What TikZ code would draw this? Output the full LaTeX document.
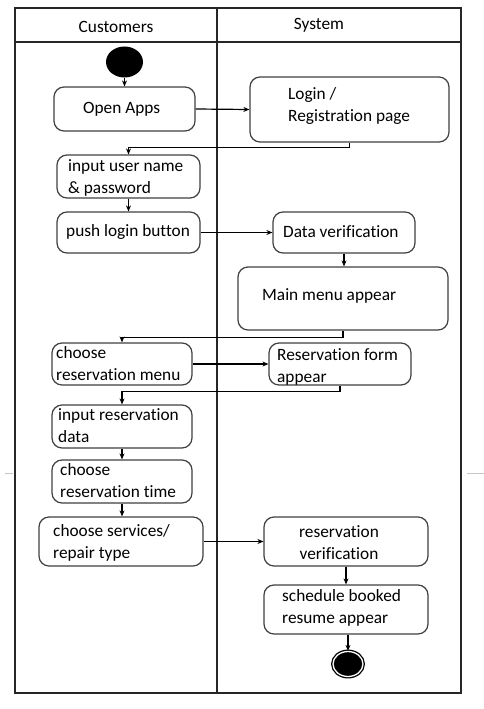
\documentclass[tikz,border=0pt]{standalone}
\usepackage{fontspec}
\setmainfont{Carlito}[Ligatures=NoCommon]
\usetikzlibrary{arrows.meta,shapes.geometric}
\begin{document}
\begin{tikzpicture}[x=1pt,y=-1pt,
  box/.style={draw=black!75, line width=1.2pt, fill=white, rounded corners=10pt, inner sep=0pt},
  txt/.style={inner sep=0pt, align=left, anchor=west, font=\fontsize{17.3}{22}\selectfont},
  ctxt/.style={inner sep=0pt, align=center, font=\fontsize{17.3}{22}\selectfont},
  arr/.style={line width=1.2pt, -{Stealth[length=6pt,width=5pt]}},
  frame/.style={line width=1.5pt, draw=black!85}]
\useasboundingbox (0,0) rectangle (484,709);
% page artifacts
\draw[gray!45, line width=1pt] (5,473) -- (13,473);
\draw[gray!45, line width=1pt] (467,473) -- (484,473);
% swimlane frame
\draw[frame] (15,8) rectangle (461,693);
\draw[frame] (15,42) -- (461,42);
\draw[frame] (217,8) -- (217,693);
\node[ctxt] (hcust) at (116,27) {Customers};
\node[ctxt] (hsys) at (319,25) {System};
% start
\node[ellipse, fill=black, minimum width=37pt, minimum height=31pt, inner sep=0pt] (start) at (124.5,62) {};
% boxes
\node[box, minimum width=141pt, minimum height=44pt] (open) at (124.5,109) {};
\node[txt] (topen) at (83,109) {Open Apps};
\node[box, minimum width=199pt, minimum height=65pt] (login) at (349.5,109.5) {};
\node[txt] (tlogin) at (288,106) {Login /\\Registration page};
\node[box, minimum width=143pt, minimum height=43pt] (input) at (128.5,176.5) {};
\node[txt] (tinput) at (68,178) {input user name\\\& password};
\node[box, minimum width=143pt, minimum height=41pt] (push) at (128.5,232.5) {};
\node[txt] (tpush) at (66,232) {push login button};
\node[box, minimum width=142pt, minimum height=41pt] (data) at (344,232.5) {};
\node[txt] (tdata) at (283,232) {Data verification};
\node[box, minimum width=210pt, minimum height=63pt] (main) at (343,298.5) {};
\node[txt] (tmain) at (262,296) {Main menu appear};
\node[box, minimum width=140pt, minimum height=42pt] (chres) at (122,364) {};
\node[txt] (tchres) at (56,364) {choose\\reservation menu};
\node[box, minimum width=142pt, minimum height=42pt] (form) at (340,364) {};
\node[txt] (tform) at (277,367) {Reservation form\\appear};
\node[box, minimum width=140pt, minimum height=43pt] (inres) at (122,426.5) {};
\node[txt] (tinres) at (58,426) {input reservation\\data};
\node[box, minimum width=140pt, minimum height=43pt] (time) at (122,481.5) {};
\node[txt] (ttime) at (60,481) {choose\\reservation time};
\node[box, minimum width=164pt, minimum height=49pt] (serv) at (121,541.5) {};
\node[txt] (tserv) at (53,542.5) {choose services/\\repair type};
\node[box, minimum width=164pt, minimum height=49pt] (rver) at (346,541.5) {};
\node[ctxt] (trver) at (339,543) {reservation\\verification};
\node[box, minimum width=164pt, minimum height=49pt] (sched) at (346,609.5) {};
\node[txt] (tsched) at (282,607.5) {schedule booked\\resume appear};
% end
\node[ellipse, draw=black, line width=1.3pt, double=white, double distance=1.3pt, fill=black, minimum width=30pt, minimum height=25pt, inner sep=0pt] (end) at (348,664) {};
% connectors
\draw[arr] (start) -- (open);
\draw[arr] (open.east) -- (login.west);
\draw[arr] (login.south) -- ++(0,5) -| (input.north);
\draw[arr] (input.south) -- (push.north);
\draw[arr] (push.east) -- (data.west);
\draw[arr] (data.south) -- (data.south |- main.north);
\draw[arr] (main.south) -- ++(0,7) -| (chres.north);
\draw[arr] (chres.east) -- (form.west);
\draw[arr] (form.south) -- ++(0,6) -| (inres.north);
\draw[arr] (inres.south) -- (time.north);
\draw[arr] (time.south) -- (time.south |- serv.north);
\draw[arr] (serv.east) -- (rver.west);
\draw[arr] (rver.south) -- (sched.north);
\draw[arr] (sched.south -| end.north) -- (end.north);
\end{tikzpicture}
\end{document}
